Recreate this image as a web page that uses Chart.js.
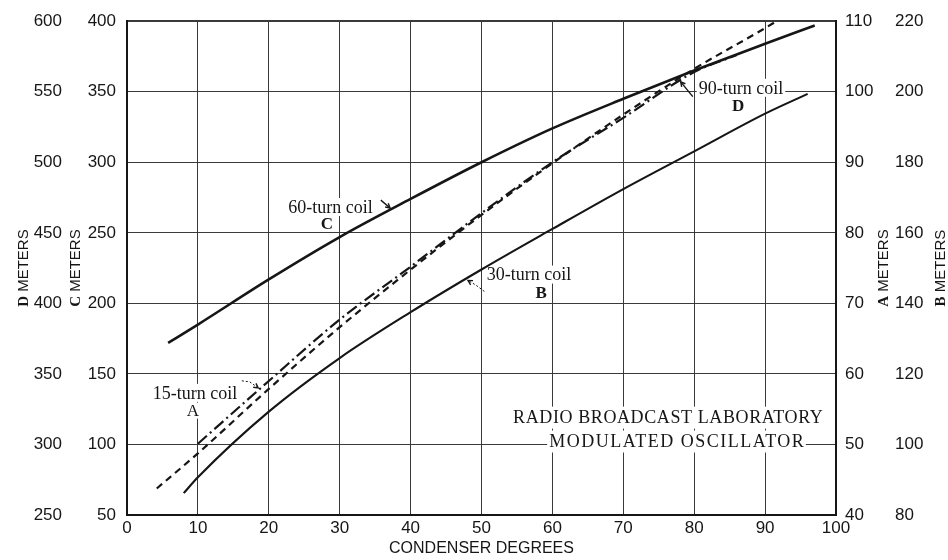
<!DOCTYPE html>
<html>
<head>
<meta charset="utf-8">
<title>Radio Broadcast Laboratory Modulated Oscillator</title>
<script src="https://cdn.jsdelivr.net/npm/chart.js@4.4.1/dist/chart.umd.min.js"></script>
<style>
html,body{margin:0;padding:0;background:#ffffff;}
#box{position:relative;width:948px;height:560px;}
canvas{display:block;}
</style>
</head>
<body>
<div id="box"><canvas id="chart" width="948" height="560"></canvas></div>
<script>
// ---- tick labels of the five scales ----
const xTicks = [0,10,20,30,40,50,60,70,80,90,100];
const dTicks = [250,300,350,400,450,500,550,600];
const cTicks = [50,100,150,200,250,300,350,400];
const aTicks = [40,50,60,70,80,90,100,110];
const bTicks = [80,100,120,140,160,180,200,220];

// ---- curves: condenser degrees and metres (each on its own scale) ----
const coilC_deg = [5.8,10,20,30,40,50,60,70,80,90,97];
const coilC_m   = [172,185,217,247,274,300,324,345,365,384,397];

const coilB_deg = [8,10,20,30,40,50,60,70,80,90,96];
const coilB_m   = [86.2,90.7,109.3,124.5,137.5,149.6,161.1,172.4,183.1,193.8,199.4];

const coilD_deg = [4.2,10,20,30,40,50,60,70,80,90,91.6];
const coilD_m   = [268.8,293.7,339.4,383.1,423.9,462.7,499.3,533.8,566.2,595.1,600];

const coilA_deg = [10,20,30,40,50,60,70,80,86];
const coilA_m   = [50.1,59.0,67.7,75.2,82.8,90.0,96.3,102.8,105.2];

const pts = (xs, ys) => xs.map((x, i) => ({x: x, y: ys[i]}));

const INK = '#161616';
const GRID = '#3a3a3a';
const SANS = '"Liberation Sans", Arial, sans-serif';
const SERIF = '"Liberation Serif", "Times New Roman", serif';

// ---- annotations (positions in condenser degrees / C-metres) ----
const notes = [
  {text:'60-turn coil', deg:28.7, m:268.3, font:'18px '+SERIF, bg:[2,9]},
  {text:'C', deg:28.2, m:256.3, font:'bold 17px '+SERIF, bg:[2,8]},
  {text:'30-turn coil', deg:56.7, m:220.4, font:'18px '+SERIF, bg:[2,9]},
  {text:'B', deg:58.4, m:207.4, font:'bold 17px '+SERIF, bg:[2,8]},
  {text:'90-turn coil', deg:86.6, m:352.8, font:'18px '+SERIF, bg:[2,9]},
  {text:'D', deg:86.2, m:340.1, font:'bold 17px '+SERIF, bg:[2,8]},
  {text:'15-turn coil', deg:9.6, m:136.6, font:'18px '+SERIF, bg:[2,9]},
  {text:'A', deg:9.3, m:124.0, font:'17px '+SERIF, bg:[2,8]},
  {text:'RADIO BROADCAST LABORATORY', deg:76.3, m:119.0, font:'18px '+SERIF, ls:0.6, bg:[4,11]},
  {text:'MODULATED OSCILLATOR', deg:77.5, m:102.1, font:'18px '+SERIF, ls:1.5, bg:[2,11]}
];
const leaders = [
  {pts:[[35.8,273.2],[37.1,267.6]], dotted:false},
  {pts:[[50.4,208.5],[49.2,213.0],[48.1,216.2]], dotted:true},
  {pts:[[79.8,346.5],[78.1,357.0]], dotted:false},
  {pts:[[16.2,145.1],[17.3,144.4],[18.5,140.1]], dotted:true}
];
const axisTitles = [
  {letter:'D', rest:' METERS', scale:'yD', dx:23},
  {letter:'C', rest:' METERS', scale:'yC', dx:9},
  {letter:'A', rest:' METERS', scale:'yA', dx:47},
  {letter:'B', rest:' METERS', scale:'yB', dx:52}
];

const annotPlugin = {
  id: 'annot',
  beforeDatasetsDraw(chart) {
    const ctx = chart.ctx;
    const sx = chart.scales.x, sy = chart.scales.yC;
    ctx.save();
    const placed = notes.map(n => {
      ctx.font = n.font;
      ctx.letterSpacing = (n.ls || 0) + 'px';
      const w = ctx.measureText(n.text).width - (n.ls || 0);
      return {n, px: sx.getPixelForValue(n.deg), py: sy.getPixelForValue(n.m), w};
    });
    ctx.fillStyle = '#ffffff';
    for (const p of placed) {
      ctx.fillRect(p.px - p.w/2 - p.n.bg[0], p.py - p.n.bg[1], p.w + 2*p.n.bg[0], 2*p.n.bg[1]);
    }
    ctx.fillStyle = INK;
    ctx.textAlign = 'left';
    ctx.textBaseline = 'middle';
    for (const p of placed) {
      ctx.font = p.n.font;
      ctx.letterSpacing = (p.n.ls || 0) + 'px';
      ctx.fillText(p.n.text, p.px - p.w/2, p.py + 1);
    }
    ctx.letterSpacing = '0px';
    // leaders
    ctx.strokeStyle = INK;
    for (const L of leaders) {
      const P = L.pts.map(q => [sx.getPixelForValue(q[0]), sy.getPixelForValue(q[1])]);
      ctx.lineWidth = L.dotted ? 1 : 1.4;
      ctx.setLineDash(L.dotted ? [2,2] : []);
      ctx.beginPath();
      ctx.moveTo(P[0][0], P[0][1]);
      for (let i = 1; i < P.length; i++) ctx.lineTo(P[i][0], P[i][1]);
      ctx.stroke();
      ctx.setLineDash([]);
      const a = P[P.length-1], b = P[P.length-2];
      const ang = Math.atan2(a[1]-b[1], a[0]-b[0]);
      ctx.lineWidth = 1.4;
      ctx.beginPath();
      ctx.moveTo(a[0] - 5*Math.cos(ang-0.5), a[1] - 5*Math.sin(ang-0.5));
      ctx.lineTo(a[0], a[1]);
      ctx.lineTo(a[0] - 5*Math.cos(ang+0.5), a[1] - 5*Math.sin(ang+0.5));
      ctx.stroke();
    }
    ctx.restore();
  },
  afterDraw(chart) {
    const ctx = chart.ctx;
    const area = chart.chartArea;
    const cy = (area.top + area.bottom) / 2;
    ctx.save();
    ctx.fillStyle = INK;
    ctx.textBaseline = 'middle';
    ctx.textAlign = 'left';
    for (const t of axisTitles) {
      const s = chart.scales[t.scale];
      const x = s.left + t.dx;
      ctx.font = 'bold 15px ' + SERIF;
      const w1 = ctx.measureText(t.letter).width;
      ctx.font = '15px ' + SANS;
      const w2 = ctx.measureText(t.rest).width;
      const start = -(w1 + w2) / 2;
      ctx.save();
      ctx.translate(x, cy);
      ctx.rotate(-Math.PI / 2);
      ctx.font = 'bold 15px ' + SERIF;
      ctx.fillText(t.letter, start, 1);
      ctx.font = '15px ' + SANS;
      ctx.fillText(t.rest, start + w1, 1);
      ctx.restore();
    }
    ctx.restore();
  }
};

const tickFont = {family: SANS, size: 17};
const yScale = (ticks, position, weight, width, pad, grid, border) => ({
  type: 'linear',
  position: position,
  weight: weight,
  min: ticks[0],
  max: ticks[ticks.length - 1],
  ticks: {stepSize: ticks[1] - ticks[0], font: tickFont, color: INK, padding: pad, autoSkip: false},
  grid: grid ? {color: GRID, lineWidth: (c) => (c.tick && c.tick.value === ticks[ticks.length-1]) ? 2 : 1, drawTicks: false}
             : {display: false, drawTicks: false},
  border: border ? {color: INK, width: 2} : {display: false},
  title: {display: false},
  afterFit: (s) => { s.width = width; }
});

new Chart(document.getElementById('chart'), {
  type: 'line',
  data: {
    datasets: [
      {label: '60-turn coil C', data: pts(coilC_deg, coilC_m), yAxisID: 'yC',
       borderColor: INK, borderWidth: 2.6, pointRadius: 0, fill: false, cubicInterpolationMode: 'monotone'},
      {label: '30-turn coil B', data: pts(coilB_deg, coilB_m), yAxisID: 'yB',
       borderColor: INK, borderWidth: 2.1, pointRadius: 0, fill: false, cubicInterpolationMode: 'monotone'},
      {label: '90-turn coil D', data: pts(coilD_deg, coilD_m), yAxisID: 'yD',
       borderColor: INK, borderWidth: 2.2, borderDash: [7,5], pointRadius: 0, fill: false, cubicInterpolationMode: 'monotone'},
      {label: '15-turn coil A', data: pts(coilA_deg, coilA_m), yAxisID: 'yA',
       borderColor: INK, borderWidth: 2.2, borderDash: [12,4,2,4], pointRadius: 0, fill: false, cubicInterpolationMode: 'monotone'}
    ]
  },
  options: {
    responsive: false,
    animation: false,
    devicePixelRatio: 1,
    layout: {padding: {top: 18, left: 0, right: 0, bottom: 0}},
    plugins: {legend: {display: false}, tooltip: {enabled: false}},
    scales: {
      x: {
        type: 'linear',
        min: xTicks[0],
        max: xTicks[xTicks.length - 1],
        ticks: {stepSize: xTicks[1] - xTicks[0], font: tickFont, color: INK, padding: 3, maxRotation: 0, autoSkip: false},
        grid: {color: GRID, lineWidth: 1, drawTicks: false},
        border: {color: INK, width: 2},
        title: {display: true, text: 'CONDENSER DEGREES', font: {family: SANS, size: 16}, color: INK, padding: {top: 0, bottom: 2}},
        afterFit: (s) => { s.height = 45; }
      },
      yC: yScale(cTicks, 'left', 1, 61, 11, true, true),
      yD: yScale(dTicks, 'left', 2, 66, 4, false, false),
      yA: yScale(aTicks, 'right', 1, 52, 9, false, true),
      yB: yScale(bTicks, 'right', 2, 60, 7, false, false)
    }
  },
  plugins: [annotPlugin]
});
</script>
</body>
</html>
